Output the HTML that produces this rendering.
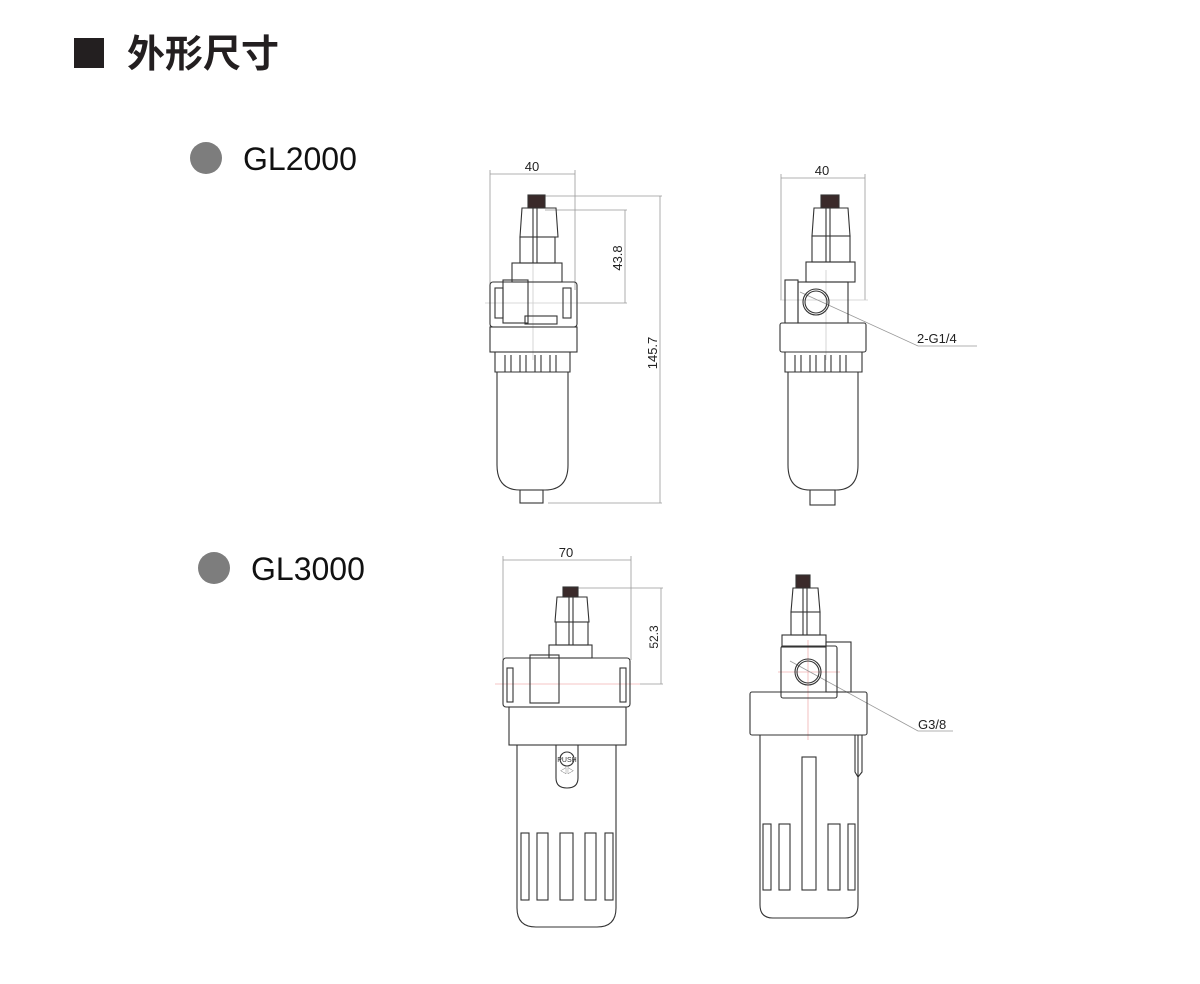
<!DOCTYPE html>
<html><head><meta charset="utf-8"><style>
html,body{margin:0;padding:0;background:#fff}
svg{display:block}
text{font-family:"Liberation Sans","Noto Sans CJK SC",sans-serif}
</style></head><body>
<svg width="1200" height="984" viewBox="0 0 1200 984" xmlns="http://www.w3.org/2000/svg">
<rect x="74" y="38" width="30" height="30" fill="#231f20"/>
<text x="127" y="67" font-size="38" font-weight="bold" fill="#231f20" font-family="'Noto Sans CJK SC',sans-serif">外形尺寸</text>
<circle cx="206" cy="158" r="16" fill="#7d7d7d"/>
<text x="243" y="170" font-size="32" fill="#111">GL2000</text>
<circle cx="214" cy="568" r="16" fill="#7d7d7d"/>
<text x="251" y="580" font-size="32" fill="#111">GL3000</text>

<g fill="none" stroke="#999" stroke-width="0.8">
<line x1="490" y1="170" x2="490" y2="290"/><line x1="575" y1="170" x2="575" y2="290"/>
<line x1="490" y1="174" x2="575" y2="174"/>
<line x1="545" y1="196" x2="662" y2="196"/><line x1="548" y1="503" x2="662" y2="503"/>
<line x1="660" y1="196" x2="660" y2="503"/>
<line x1="545" y1="210" x2="627" y2="210"/><line x1="577" y1="303" x2="627" y2="303"/>
<line x1="625" y1="210" x2="625" y2="303"/>
<line x1="533" y1="195" x2="533" y2="360" stroke="#ccc"/>
<line x1="485" y1="303" x2="580" y2="303" stroke="#ccc"/>
<line x1="781" y1="174" x2="781" y2="300"/><line x1="865" y1="174" x2="865" y2="300"/>
<line x1="781" y1="178" x2="865" y2="178"/>
<line x1="826" y1="270" x2="826" y2="360" stroke="#ccc"/>
<line x1="780" y1="300" x2="868" y2="300" stroke="#ccc"/>
<polyline points="800,292 918,346 977,346"/>
<line x1="503" y1="556" x2="503" y2="660"/><line x1="631" y1="556" x2="631" y2="660"/>
<line x1="503" y1="560" x2="631" y2="560"/>
<line x1="578" y1="588" x2="663" y2="588"/><line x1="640" y1="684" x2="663" y2="684"/>
<line x1="661" y1="588" x2="661" y2="684"/>
<line x1="495" y1="684" x2="640" y2="684" stroke="#f0b0b0"/>
<line x1="808" y1="640" x2="808" y2="740" stroke="#f0b0b0"/>
<line x1="778" y1="672" x2="840" y2="672" stroke="#f0b0b0"/>
<polyline points="790,661 918,731 953,731"/>
</g>

<g font-size="13" fill="#222">
<text x="532" y="171" text-anchor="middle">40</text>
<text x="822" y="175" text-anchor="middle">40</text>
<text transform="translate(622,258) rotate(-90)" text-anchor="middle">43.8</text>
<text transform="translate(657,353) rotate(-90)" text-anchor="middle">145.7</text>
<text x="917" y="343">2-G1/4</text>
<text x="566" y="557" text-anchor="middle">70</text>
<text transform="translate(658,637) rotate(-90)" text-anchor="middle" font-size="12">52.3</text>
<text x="918" y="729">G3/8</text>
</g>

<g fill="none" stroke="#333" stroke-width="1.1">
<rect x="528" y="195" width="17" height="13" fill="#3a2a2a"/>
<polygon points="522,208 556,208 558,237 520,237"/>
<rect x="520" y="237" width="35" height="26"/>
<line x1="533" y1="208" x2="533" y2="263"/><line x1="537" y1="208" x2="537" y2="263"/>
<rect x="512" y="263" width="50" height="19"/>
<rect x="490" y="282" width="87" height="45" rx="3"/>
<rect x="495" y="288" width="8" height="30"/><rect x="563" y="288" width="8" height="30"/>
<rect x="503" y="280" width="25" height="43"/>
<rect x="525" y="316" width="32" height="8"/>
<rect x="490" y="327" width="87" height="25"/>
<path d="M495,352 v20 h75 v-20"/>
<path d="M505,355 v17 M511,355 v17 M520,355 v17 M526,355 v17 M535,355 v17 M541,355 v17 M550,355 v17 M556,355 v17"/>
<path d="M497,372 V465 Q497,490 520,490 H545 Q568,490 568,465 V372"/>
<rect x="520" y="490" width="23" height="13"/>
<rect x="821" y="195" width="18" height="13" fill="#3a2a2a"/>
<polygon points="814,208 848,208 850,236 812,236"/>
<rect x="812" y="236" width="38" height="26"/>
<line x1="826" y1="208" x2="826" y2="262"/><line x1="830" y1="208" x2="830" y2="262"/>
<rect x="806" y="262" width="49" height="20"/>
<rect x="785" y="280" width="13" height="43"/>
<rect x="798" y="282" width="50" height="41"/>
<circle cx="816" cy="302" r="13"/><circle cx="816" cy="302" r="11"/>
<rect x="780" y="323" width="86" height="29" rx="2"/>
<path d="M785,352 v20 h77 v-20"/>
<path d="M795,355 v17 M801,355 v17 M810,355 v17 M816,355 v17 M825,355 v17 M831,355 v17 M840,355 v17 M846,355 v17"/>
<path d="M788,372 V465 Q788,490 810,490 H836 Q858,490 858,465 V372"/>
<rect x="810" y="490" width="25" height="15"/>
<rect x="563" y="587" width="15" height="10" fill="#3a2a2a"/>
<polygon points="557,597 587,597 589,622 555,622"/>
<rect x="556" y="622" width="32" height="23"/>
<line x1="569" y1="597" x2="569" y2="645"/><line x1="573" y1="597" x2="573" y2="645"/>
<rect x="549" y="645" width="43" height="13"/>
<rect x="503" y="658" width="127" height="49" rx="3"/>
<rect x="507" y="668" width="6" height="34"/><rect x="620" y="668" width="6" height="34"/>
<rect x="530" y="655" width="29" height="48"/>
<rect x="509" y="707" width="117" height="38"/>
<path d="M517,745 V908 Q517,927 536,927 H597 Q616,927 616,908 V745"/>
<path d="M556,745 V778 Q556,788 567,788 Q578,788 578,778 V745"/>
<circle cx="567" cy="759" r="7"/>
<rect x="521" y="833" width="8" height="67"/><rect x="537" y="833" width="11" height="67"/>
<rect x="560" y="833" width="13" height="67"/><rect x="585" y="833" width="11" height="67"/>
<rect x="605" y="833" width="8" height="67"/>
<rect x="796" y="575" width="14" height="13" fill="#3a2a2a"/>
<polygon points="793,588 818,588 820,612 791,612"/>
<rect x="791" y="612" width="29" height="23"/>
<line x1="803" y1="588" x2="803" y2="635"/><line x1="807" y1="588" x2="807" y2="635"/>
<rect x="782" y="635" width="44" height="12"/>
<rect x="826" y="642" width="25" height="50"/>
<rect x="781" y="646" width="56" height="52" rx="2"/>
<circle cx="808" cy="672" r="13"/><circle cx="808" cy="672" r="11"/>
<rect x="750" y="692" width="117" height="43" rx="2"/>
<path d="M760,735 V905 Q760,918 773,918 H845 Q858,918 858,905 V735"/>
<path d="M855,735 V772 L858,777 L862,772 V735"/>
<rect x="802" y="757" width="14" height="133"/>
<rect x="763" y="824" width="8" height="66"/><rect x="779" y="824" width="11" height="66"/>
<rect x="828" y="824" width="12" height="66"/><rect x="848" y="824" width="7" height="66"/>
</g>
<text x="567" y="762" font-size="7" text-anchor="middle" fill="#333">PUSH</text>
<text x="567" y="773" font-size="7" text-anchor="middle" fill="#333">◁▷</text>
</svg>
</body></html>
